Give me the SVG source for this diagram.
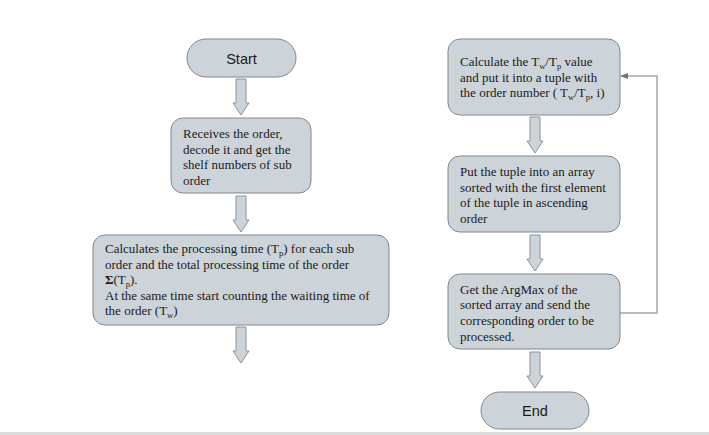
<svg xmlns="http://www.w3.org/2000/svg" width="709" height="435" viewBox="0 0 709 435">
<style>
.node{fill:#cdd4d9;stroke:#80878c;stroke-width:1}
.arr{fill:#cdd4d9;stroke:#8d9296;stroke-width:1}
.t{font-family:"Liberation Serif",serif;font-size:13px;fill:#1a1a1a}
.s{font-family:"Liberation Sans",sans-serif;font-size:14.5px;fill:#1a1a1a}
.sub{font-size:8.5px}
.conn{fill:none;stroke:#a3a8ab;stroke-width:1.5}
</style>
<defs>
<marker id="ah" markerWidth="8" markerHeight="8" refX="7" refY="4" orient="auto" markerUnits="userSpaceOnUse">
<path d="M0,1 L8,4 L0,7 Z" fill="#6f767b"/>
</marker>
<path id="downarrow" d="M-5,0 H5 V24 H8 L0,36 L-8,24 H-5 Z"/>
</defs>
<rect x="0" y="432" width="709" height="3" fill="#dcdcdc"/>
<g id="connectors">
<use href="#downarrow" class="arr" x="241" y="79"/>
<use href="#downarrow" class="arr" x="241" y="196"/>
<use href="#downarrow" class="arr" x="241" y="327"/>
<use href="#downarrow" class="arr" x="535" y="117"/>
<use href="#downarrow" class="arr" x="535" y="235"/>
<use href="#downarrow" class="arr" x="535" y="352"/>
<path class="conn" d="M620,313 H657 V76 H621" marker-end="url(#ah)"/>
</g>
<g id="start">
<rect class="node" x="187" y="39" width="109" height="38" rx="19"/>
<text class="s" x="241.5" y="63.5" text-anchor="middle">Start</text>
</g>
<g id="receive">
<rect class="node" x="171" y="118" width="140" height="75" rx="12"/>
<text class="t" x="183" y="138">Receives the order,</text>
<text class="t" x="183" y="154">decode it and get the</text>
<text class="t" x="183" y="169">shelf numbers of sub</text>
<text class="t" x="183" y="185">order</text>
</g>
<g id="calc">
<rect class="node" x="93" y="235" width="296" height="90" rx="12"/>
<text class="t" x="105" y="253">Calculates the processing time (T<tspan class="sub" dy="3">p</tspan><tspan dy="-3">) for each sub</tspan></text>
<text class="t" x="105" y="269">order and the total processing time of the order</text>
<text class="t" x="105" y="284"><tspan font-weight="bold">Σ</tspan>(T<tspan class="sub" dy="3">p</tspan><tspan dy="-3">).</tspan></text>
<text class="t" x="105" y="300">At the same time start counting the waiting time of</text>
<text class="t" x="105" y="315">the order (T<tspan class="sub" dy="3">w</tspan><tspan dy="-3">)</tspan></text>
</g>
<g id="ratio">
<rect class="node" x="448" y="39" width="172" height="76" rx="12"/>
<text class="t" x="460" y="66">Calculate the T<tspan class="sub" dy="3">w</tspan><tspan dy="-3">/T</tspan><tspan class="sub" dy="3">p</tspan><tspan dy="-3"> value</tspan></text>
<text class="t" x="460" y="82">and put it into a tuple with</text>
<text class="t" x="460" y="97">the order number ( T<tspan class="sub" dy="3">w</tspan><tspan dy="-3">/T</tspan><tspan class="sub" dy="3">p</tspan><tspan dy="-3">, i)</tspan></text>
</g>
<g id="sort">
<rect class="node" x="448" y="156" width="172" height="76" rx="12"/>
<text class="t" x="460" y="176">Put the tuple into an array</text>
<text class="t" x="460" y="192">sorted with the first element</text>
<text class="t" x="460" y="207">of the tuple in ascending</text>
<text class="t" x="460" y="223">order</text>
</g>
<g id="argmax">
<rect class="node" x="448" y="274" width="172" height="75" rx="12"/>
<text class="t" x="460" y="294">Get the ArgMax of the</text>
<text class="t" x="460" y="309">sorted array and send the</text>
<text class="t" x="460" y="325">corresponding order to be</text>
<text class="t" x="460" y="341">processed.</text>
</g>
<g id="end">
<rect class="node" x="481" y="392" width="108" height="37" rx="18.5"/>
<text class="s" x="535" y="416" text-anchor="middle">End</text>
</g>
</svg>
